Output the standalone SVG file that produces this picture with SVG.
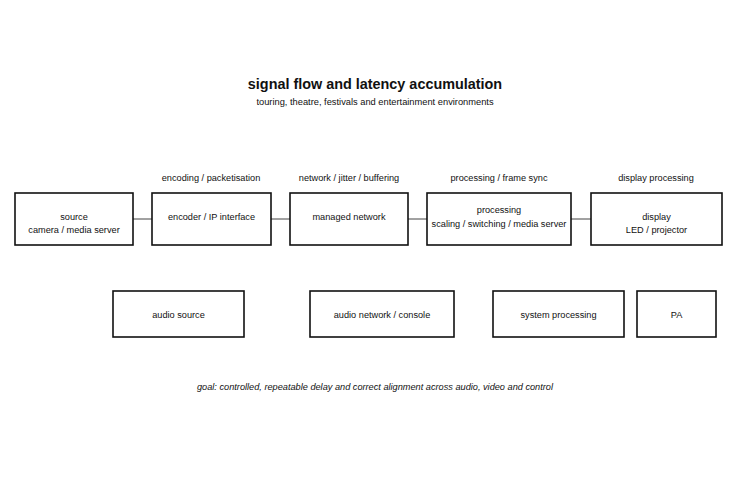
<svg xmlns="http://www.w3.org/2000/svg" width="750" height="500" viewBox="0 0 750 500">
<style>
text{font-family:"Liberation Sans",Arial,sans-serif;fill:#111;text-anchor:middle}
.t{font-size:14.4px;font-weight:bold}
.s{font-size:9.3px}
.l{font-size:9.2px}
.g{font-size:9.2px;font-style:italic}
rect{fill:#fff;stroke:#111;stroke-width:1.6}
line{stroke:#444;stroke-width:1}
</style>
<rect x="0" y="0" width="750" height="500" style="fill:#fff;stroke:none"/>
<text class="t" x="375" y="89">signal flow and latency accumulation</text>
<text class="s" x="375" y="105">touring, theatre, festivals and entertainment environments</text>
<text class="l" x="211" y="181">encoding / packetisation</text>
<text class="l" x="349" y="181">network / jitter / buffering</text>
<text class="l" x="499" y="181">processing / frame sync</text>
<text class="l" x="656" y="181">display processing</text>
<g id="connectors">
<line x1="133" y1="219" x2="152" y2="219"/>
<line x1="271" y1="219" x2="290" y2="219"/>
<line x1="408" y1="219" x2="427" y2="219"/>
<line x1="571" y1="219" x2="591" y2="219"/>
</g>
<g id="source"><rect x="15" y="193" width="118" height="52"/><text class="l" x="74" y="219.5">source</text><text class="l" x="74" y="233">camera / media server</text></g>
<g id="encoder"><rect x="152" y="193" width="119" height="52"/><text class="l" x="211.5" y="220">encoder / IP interface</text></g>
<g id="network"><rect x="290" y="193" width="118" height="52"/><text class="l" x="349" y="220">managed network</text></g>
<g id="processing"><rect x="427" y="193" width="144" height="52"/><text class="l" x="499" y="213">processing</text><text class="l" x="499" y="226.5">scaling / switching / media server</text></g>
<g id="display"><rect x="591" y="193" width="131" height="52"/><text class="l" x="656.5" y="219.5">display</text><text class="l" x="656.5" y="233">LED / projector</text></g>
<g id="audio-source"><rect x="113" y="291" width="131" height="46"/><text class="l" x="178.5" y="318">audio source</text></g>
<g id="audio-network"><rect x="310" y="291" width="144" height="46"/><text class="l" x="382" y="318">audio network / console</text></g>
<g id="system-processing"><rect x="493" y="291" width="131" height="46"/><text class="l" x="558.5" y="318">system processing</text></g>
<g id="pa"><rect x="637" y="291" width="79" height="46"/><text class="l" x="676.5" y="318">PA</text></g>
<text class="g" x="375" y="390">goal: controlled, repeatable delay and correct alignment across audio, video and control</text>
</svg>
